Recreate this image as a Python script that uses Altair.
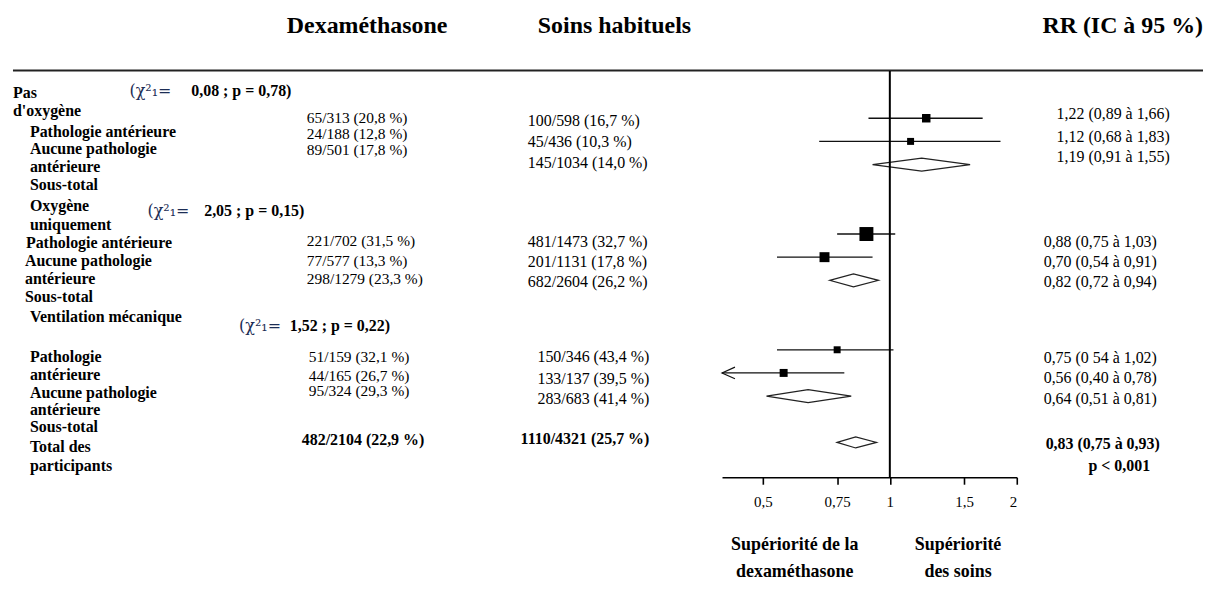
import altair as alt
import pandas as pd

# ---------------- values ----------------
HEADERS = ["Dexaméthasone", "Soins habituels", "RR (IC à 95 %)"]
GROUPS = ["Pas d'oxygène", "Oxygène uniquement", "Ventilation mécanique"]
CHI2 = ["0,08", "2,05", "1,52"]
P_HET = ["0,78", "0,15", "0,22"]
SUBGROUPS = ["Pathologie antérieure", "Aucune pathologie antérieure", "Sous-total"]
TOTAL_LABEL = "Total des participants"
FAVOURS = ["Supériorité de la dexaméthasone", "Supériorité des soins"]

# order: per group (pathologie, aucune pathologie, sous-total) ..., total
DEX_EVENTS = [65, 24, 89, 221, 77, 298, 51, 44, 95, 482]
DEX_TOTAL = [313, 188, 501, 702, 577, 1279, 159, 165, 324, 2104]
DEX_PCT = [20.8, 12.8, 17.8, 31.5, 13.3, 23.3, 32.1, 26.7, 29.3, 22.9]
SOC_EVENTS = [100, 45, 145, 481, 201, 682, 150, 133, 283, 1110]
SOC_TOTAL = [598, 436, 1034, 1473, 1131, 2604, 346, 137, 683, 4321]
SOC_PCT = [16.7, 10.3, 14.0, 32.7, 17.8, 26.2, 43.4, 39.5, 41.4, 25.7]
RR_EST = [1.22, 1.12, 1.19, 0.88, 0.70, 0.82, 0.75, 0.56, 0.64, 0.83]
RR_LO = [0.89, 0.68, 0.91, 0.75, 0.54, 0.72, 0.54, 0.40, 0.51, 0.75]
RR_HI = [1.66, 1.83, 1.55, 1.03, 0.91, 0.94, 1.02, 0.78, 0.81, 0.93]
RR_TEXT = ["1,22 (0,89 à 1,66)", "1,12 (0,68 à 1,83)", "1,19 (0,91 à 1,55)",
           "0,88 (0,75 à 1,03)", "0,70 (0,54 à 0,91)", "0,82 (0,72 à 0,94)",
           "0,75 (0 54 à 1,02)", "0,56 (0,40 à 0,78)", "0,64 (0,51 à 0,81)",
           "0,83 (0,75 à 0,93)"]
P_OVERALL = "p < 0,001"
X_TICKS = [0.5, 0.75, 1, 1.5, 2]

# ---------------- layout / style (not data) ----------------
W, H = 1200, 578
AXIS_Y = 470
FONT = "Liberation Serif"
X_MIN, X_MAX = 0.4, 2.0
SQUARE_SIDE = [8.5, 7, 14, 10, 7, 8]          # marker side (px) for study rows
DIAMOND_HALF = {"sub": 0.28, "total": 0.24}  # half height in row units

DEX_X = [300] * 6 + [302] * 3 + [295]
DEX_Y = [109, 125, 141, 233, 253, 271, 349, 368, 383, 433]
SOC_Y = [112, 133, 154, 234, 254, 274, 349, 371, 391, 432]
RR_X = [1053] * 3 + [1040] * 6 + [1042]
RR_Y = [105, 128, 148, 234, 254, 274, 350, 370, 391, 437]

# ---------------- build tables ----------------
rows, kinds = [], []
for g in range(len(GROUPS)):
    for i in range(3):
        rows.append(5 * g + i)
        kinds.append("sub" if i == 2 else "study")
rows.append(rows[-1] + 2)
kinds.append("total")

forest = pd.DataFrame({"row": rows, "kind": kinds, "est": RR_EST, "lo": RR_LO, "hi": RR_HI})
study = forest[forest.kind == "study"].copy()
study["sq"] = [s * s for s in SQUARE_SIDE]
arrows = study[study.lo <= X_MIN]

dia = []
for k, r in forest[forest.kind != "study"].iterrows():
    h = DIAMOND_HALF[r.kind]
    dia += [{"d": k, "dx": r.lo, "y1": r.row, "y2": r.row},
            {"d": k, "dx": r.est, "y1": r.row - h, "y2": r.row + h},
            {"d": k, "dx": r.hi, "y1": r.row, "y2": r.row}]
dia = pd.DataFrame(dia)


def pct(v):
    return f"{v:.1f}".replace(".", ",")


dex_txt = [f"{e}/{n} ({pct(p)} %)" for e, n, p in zip(DEX_EVENTS, DEX_TOTAL, DEX_PCT)]
soc_txt = [f"{e}/{n} ({pct(p)} %)" for e, n, p in zip(SOC_EVENTS, SOC_TOTAL, SOC_PCT)]


def tdf(items):
    return pd.DataFrame(items, columns=["t", "x", "y"])


# left label column
head_lines = [GROUPS[0].split(" ", 1), GROUPS[1].split(" ", 1), [GROUPS[2]]]
sub_lines_12 = [SUBGROUPS[0]] + SUBGROUPS[1].rsplit(" ", 1) + [SUBGROUPS[2]]
sub_lines_3 = SUBGROUPS[0].split(" ") + SUBGROUPS[1].rsplit(" ", 1) + [SUBGROUPS[2]]
label_text = (head_lines[0] + sub_lines_12 + head_lines[1] + sub_lines_12 +
              head_lines[2] + sub_lines_3 + TOTAL_LABEL.rsplit(" ", 1))
label_pos = [(5, 84), (5, 102), (22, 123), (22, 140), (22, 158), (22, 177),
             (22, 198), (22, 217), (18, 235), (17, 253), (17, 271), (17, 289),
             (22, 309), (22, 349), (22, 367), (22, 385), (22, 402), (22, 420),
             (22, 440), (22, 459)]
labels = tdf([(t, x, y) for t, (x, y) in zip(label_text, label_pos)])

chi_pos = [(122, 82), (140, 203), (232, 318)]
het_pos = [(184, 82), (197, 203), (283, 318)]
chi = tdf([("(χ²₁=", x, y) for x, y in chi_pos])
het = tdf([(f"{c} ; p = {p})", x, y) for c, p, (x, y) in zip(CHI2, P_HET, het_pos)])

dex_reg = tdf([(dex_txt[i], DEX_X[i], DEX_Y[i]) for i in range(9)])
dex_tot = tdf([(dex_txt[9], DEX_X[9], DEX_Y[9])])
soc_left = tdf([(soc_txt[i], 522, SOC_Y[i]) for i in range(6)])
soc_right = tdf([(soc_txt[i], 644, SOC_Y[i]) for i in range(6, 9)])
soc_tot = tdf([(soc_txt[9], 644, SOC_Y[9])])
rr_reg = tdf([(RR_TEXT[i], RR_X[i], RR_Y[i]) for i in range(9)])
rr_tot = tdf([(RR_TEXT[9], RR_X[9], RR_Y[9]), (P_OVERALL, 1085, 459)])

head_left = tdf([(HEADERS[0], 280, 16.5), (HEADERS[1], 532, 16.5)])
head_right = tdf([(HEADERS[2], 1200, 16.5)])
fav_lines = FAVOURS[0].rsplit(" ", 1) + FAVOURS[1].split(" ", 1)
fav = tdf([(fav_lines[0], 790, 538), (fav_lines[1], 790, 565),
           (fav_lines[2], 954, 538), (fav_lines[3], 954, 565)])

# ---------------- scales ----------------
PX_X = alt.Scale(domain=[0, W], range=[0, W], nice=False, zero=False)
PX_Y = alt.Scale(domain=[0, H], range=[0, H], nice=False, zero=False)
FX = alt.Scale(type="log", domain=[X_MIN, X_MAX], range=[717, 1013], nice=False)
FY = alt.Scale(domain=[0, 14], range=[109.5, 435], nice=False, zero=False)


def text_layer(df, align="left", size=16, weight="normal", color="black", font=FONT):
    return alt.Chart(df).mark_text(
        align=align, baseline="middle", font=font, fontSize=size,
        fontWeight=weight, color=color
    ).encode(
        x=alt.X("x:Q", scale=PX_X, axis=None),
        y=alt.Y("y:Q", scale=PX_Y, axis=None),
        text="t:N",
    )


top_rule = alt.Chart(pd.DataFrame({"a": [0]})).mark_rule(color="#222", strokeWidth=2).encode(
    x=alt.value(5), x2=alt.value(W), y=alt.value(61.5))

ref_rule = alt.Chart(pd.DataFrame({"ref": [1.0]})).mark_rule(color="black", strokeWidth=2).encode(
    x=alt.X("ref:Q", scale=FX, axis=None), y=alt.value(62), y2=alt.value(AXIS_Y))

ci = alt.Chart(study).mark_rule(color="#111", strokeWidth=1.3).encode(
    x=alt.X("lo:Q", scale=FX, title=None,
            axis=alt.Axis(values=X_TICKS, labelExpr="replace(toString(datum.value), '.', ',')",
                          offset=-(H - AXIS_Y), grid=False, tickSize=7, tickWidth=1.6,
                          tickColor="black", domainColor="black", domainWidth=1.6,
                          labelFont=FONT, labelFontSize=15, labelColor="black",
                          labelPadding=10)),
    x2="hi:Q",
    y=alt.Y("row:Q", scale=FY, axis=None),
)

squares = alt.Chart(study).mark_square(color="black", opacity=1).encode(
    x=alt.X("est:Q", scale=FX, axis=None),
    y=alt.Y("row:Q", scale=FY, axis=None),
    size=alt.Size("sq:Q", scale=None, legend=None),
)

arrow = alt.Chart(arrows).mark_point(
    shape="M 1 -0.45 L 0 0 L 1 0.45", filled=False, color="#111",
    strokeWidth=1.2, size=676, opacity=1
).encode(
    x=alt.X("lo:Q", scale=FX, axis=None),
    y=alt.Y("row:Q", scale=FY, axis=None),
)

diamonds = alt.Chart(dia).mark_area(
    orient="vertical", fill="white", stroke="#222", strokeWidth=1.2, opacity=1
).encode(
    x=alt.X("dx:Q", scale=FX, axis=None),
    y=alt.Y("y1:Q", scale=FY, axis=None),
    y2="y2:Q",
    detail="d:N",
)

chart = alt.layer(
    top_rule,
    ci,
    arrow,
    squares,
    diamonds,
    ref_rule,
    text_layer(head_left, size=24, weight="bold"),
    text_layer(head_right, align="right", size=24, weight="bold"),
    text_layer(labels, weight="bold"),
    text_layer(chi, size=16, color="#1c2d55", font="DejaVu Serif"),
    text_layer(het, weight="bold"),
    text_layer(dex_reg, size=15.5),
    text_layer(dex_tot, weight="bold"),
    text_layer(soc_left),
    text_layer(soc_right, align="right"),
    text_layer(soc_tot, align="right", weight="bold"),
    text_layer(rr_reg),
    text_layer(rr_tot, weight="bold"),
    text_layer(fav, align="center", size=18, weight="bold"),
).resolve_scale(
    x="independent", y="independent"
).properties(
    width=W, height=H, autosize=alt.AutoSizeParams(type="none"), padding=0,
    background="white"
).configure_view(stroke=None)

chart.save("out.html", embed_options={"renderer": "svg", "actions": False})
